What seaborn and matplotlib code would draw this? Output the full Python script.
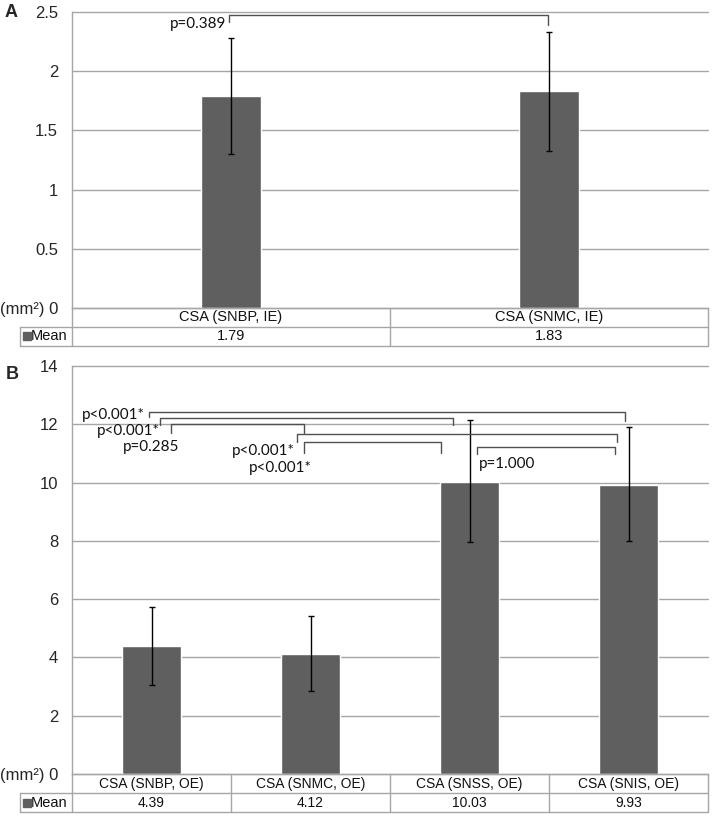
import numpy as np
import pandas as pd
import seaborn as sns
import matplotlib
matplotlib.use("Agg")
import matplotlib.pyplot as plt
from matplotlib.transforms import blended_transform_factory

# panel A data
cats_a = ["CSA (SNBP, IE)", "CSA (SNMC, IE)"]
mean_a = [1.79, 1.83]
low_a = [1.30, 1.33]
high_a = [2.28, 2.33]

# panel B data
cats_b = ["CSA (SNBP, OE)", "CSA (SNMC, OE)", "CSA (SNSS, OE)", "CSA (SNIS, OE)"]
mean_b = [4.39, 4.12, 10.03, 9.93]
low_b = [3.05, 2.85, 7.96, 7.98]
high_b = [5.73, 5.42, 12.15, 11.90]

# significance brackets: left x, right x, top y, left leg end, right leg end
brk_a = [(-0.006, 0.997, 2.475, 2.415, 2.39)]
lab_a = [("p=0.389", -0.016, 2.40, "right")]

brk_b = [
    (-0.016, 2.978, 12.41, 12.26, 12.12),
    (0.053, 1.894, 12.21, 11.98, 11.98),
    (0.123, 0.959, 12.01, 11.70, 11.70),
    (0.915, 2.926, 11.66, 11.39, 11.39),
    (0.961, 1.821, 11.38, 11.02, 11.02),
    (2.049, 2.917, 11.23, 10.98, 10.98),
]
lab_b = [
    ("p<0.001*", -0.04, 12.32, "right"),
    ("p<0.001*", 0.053, 11.78, "right"),
    ("p=0.285", 0.0, 11.23, "center"),
    ("p<0.001*", 0.90, 11.09, "right"),
    ("p<0.001*", 0.81, 10.50, "center"),
    ("p=1.000", 2.06, 10.64, "left"),
]

BAR = "#5f5f5f"
GRID = "#a6a6a6"
W, H = 714, 821

sns.set_style("white")
plt.rcParams["font.family"] = ["Liberation Sans", "DejaVu Sans"]

fig = plt.figure(figsize=(W / 100, H / 100), dpi=100)


def panel(top_px, bot_px, cats, mean, low, high, ymax, ystep, width, brk, lab, tfs):
    ax = fig.add_axes([72 / W, 1 - bot_px / H, 636 / W, (bot_px - top_px) / H])
    df = pd.DataFrame({"cat": cats, "mean": mean})
    sns.barplot(data=df, x="cat", y="mean", color=BAR, width=width,
                errorbar=None, ax=ax, saturation=1, zorder=2)
    m = np.array(mean)
    yerr = [m - np.array(low), np.array(high) - m]
    ax.errorbar(range(len(cats)), m, yerr=yerr, fmt="none", ecolor="black",
                elinewidth=1, capsize=2.5, capthick=1, zorder=3)
    n = len(cats)
    ax.set_xlim(-0.5, n - 0.5)
    ax.set_ylim(0, ymax)
    ticks = np.arange(0, ymax + ystep / 2, ystep)
    ax.set_yticks(ticks)
    labels = [f"{t:g}" for t in ticks]
    labels[0] = "(mm²) 0"
    ax.set_yticklabels(labels, fontsize=12)
    ax.tick_params(axis="y", length=0, pad=10)
    ax.tick_params(axis="x", length=0, labelbottom=False)
    ax.set_xlabel("")
    ax.set_ylabel("")
    ax.yaxis.grid(True, color=GRID, lw=1)
    for gl in ax.get_ygridlines():
        gl.set_clip_on(False)
    ax.set_axisbelow(True)
    for s in ["top", "right"]:
        ax.spines[s].set_visible(False)
    for s in ["left", "bottom"]:
        ax.spines[s].set_color(GRID)
        ax.spines[s].set_linewidth(1)

    # brackets
    for x1, x2, yt, yl, yr in brk:
        ax.plot([x1, x1, x2, x2], [yl, yt, yt, yr], color="#505050", lw=1,
                clip_on=False, zorder=4)
    for txt, x, y, ha in lab:
        ax.text(x, y, txt, ha=ha, va="center", fontsize=11,
                family=["Lato", "DejaVu Sans"], color="#111111")

    # data table under the axis
    ax_h = bot_px - top_px
    row = 19 / ax_h
    cat_px = 636 / n
    xl = -0.5 - 52 / cat_px
    tr = blended_transform_factory(ax.transData, ax.transAxes)
    kw = dict(color=GRID, lw=1, transform=tr, clip_on=False)
    ax.plot([xl, n - 0.5], [-row, -row], **kw)
    ax.plot([xl, n - 0.5], [-2 * row, -2 * row], **kw)
    ax.plot([xl, xl], [-row, -2 * row], **kw)
    for i in range(n + 1):
        ax.plot([i - 0.5, i - 0.5], [0, -2 * row], **kw)
    for i, (c, v) in enumerate(zip(cats, mean)):
        ax.text(i, -row / 2, c, ha="center", va="center", fontsize=tfs,
                transform=tr, color="#111111")
        ax.text(i, -1.5 * row, f"{v:.2f}", ha="center", va="center",
                fontsize=tfs, transform=tr, color="#111111")
    ax.plot([xl + 6.5 / cat_px], [-1.5 * row], marker="s", ms=5.5, color=BAR,
            transform=tr, clip_on=False)
    ax.text(xl + 11 / cat_px, -1.5 * row, "Mean", ha="left", va="center",
            fontsize=10.5, transform=tr, color="#111111")
    return ax


panel(12, 308, cats_a, mean_a, low_a, high_a, 2.5, 0.5, 0.19, brk_a, lab_a, 10.5)
panel(366, 774, cats_b, mean_b, low_b, high_b, 14, 2, 0.377, brk_b, lab_b, 10)

fig.text(11 / W, 1 - 12.5 / H, "A", fontsize=13, fontweight="bold",
         ha="center", va="center")
fig.text(12 / W, 1 - 374 / H, "B", fontsize=13, fontweight="bold",
         ha="center", va="center")

fig.savefig("out.png", dpi=100)
